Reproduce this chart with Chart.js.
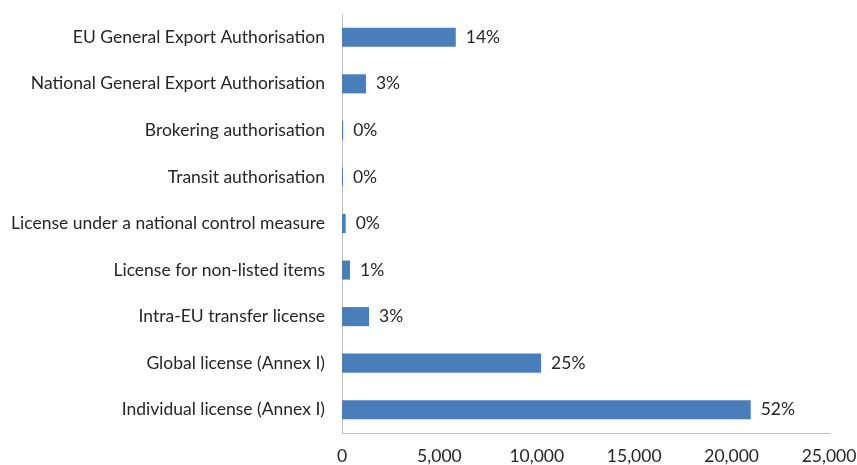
<!DOCTYPE html>
<html lang="en">
<head>
    <meta charset="UTF-8">
    <title>Licences by type</title>
    <script src="https://cdn.jsdelivr.net/npm/chart.js"></script>
    <style>
        body, html {
            margin: 0;
            padding: 0;
            background: #ffffff;
        }
        .wrap {
            width: 857px;
            height: 465px;
        }
    </style>
</head>
<body>
    <div class="wrap"><canvas id="chart" width="857" height="465"></canvas></div>
    <script>
        const categories = [
            'EU General Export Authorisation',
            'National General Export Authorisation',
            'Brokering authorisation',
            'Transit authorisation',
            'License under a national control measure',
            'License for non-listed items',
            'Intra-EU transfer license',
            'Global license (Annex I)',
            'Individual license (Annex I)'
        ];
        const values = [5840, 1230, 60, 50, 190, 410, 1390, 10220, 20980];
        const shareLabels = ['14%', '3%', '0%', '0%', '0%', '1%', '3%', '25%', '52%'];
        const xTicks = [0, 5000, 10000, 15000, 20000, 25000];

        const fontFamily = "Lato, 'Open Sans', sans-serif";
        const fontSize = 17.5;
        const textColor = '#262626';

        // thousands separator without relying on locale data
        const withCommas = v => String(v).replace(/\B(?=(\d{3})+(?!\d))/g, ',');

        // draws the percentage next to the end of each bar
        const shareLabelPlugin = {
            id: 'shareLabels',
            afterDatasetsDraw(chart) {
                const ctx = chart.ctx;
                const meta = chart.getDatasetMeta(0);
                ctx.save();
                ctx.font = fontSize + 'px ' + fontFamily;
                ctx.fillStyle = textColor;
                ctx.textAlign = 'left';
                ctx.textBaseline = 'middle';
                meta.data.forEach((bar, i) => {
                    ctx.fillText(shareLabels[i], bar.x + 10, bar.y);
                });
                ctx.restore();
            }
        };

        new Chart(document.getElementById('chart'), {
            type: 'bar',
            data: {
                labels: categories,
                datasets: [{
                    data: values,
                    backgroundColor: '#4a7ebb',
                    borderWidth: 0,
                    categoryPercentage: 1,
                    barPercentage: 0.41
                }]
            },
            options: {
                indexAxis: 'y',
                responsive: false,
                animation: false,
                layout: { padding: { left: 0, right: 28, top: 14, bottom: 0 } },
                plugins: {
                    legend: { display: false },
                    tooltip: { enabled: false }
                },
                scales: {
                    x: {
                        min: 0,
                        max: 25000,
                        afterBuildTicks(axis) {
                            axis.ticks = xTicks.map(v => ({ value: v }));
                        },
                        grid: { display: false },
                        border: { display: true, color: '#bfbfbf', width: 1 },
                        ticks: {
                            color: textColor,
                            font: { family: fontFamily, size: fontSize },
                            padding: 5,
                            maxRotation: 0,
                            callback: v => withCommas(v)
                        },
                        afterFit(axis) {
                            axis.height = 32;
                            axis.paddingLeft = 0;
                            axis.paddingRight = 0;
                        }
                    },
                    y: {
                        grid: { display: false },
                        border: { display: true, color: '#bfbfbf', width: 1 },
                        ticks: {
                            color: textColor,
                            font: { family: fontFamily, size: fontSize },
                            padding: 9
                        },
                        afterFit(axis) {
                            axis.width = 342;
                            axis.paddingTop = 0;
                            axis.paddingBottom = 0;
                        }
                    }
                }
            },
            plugins: [shareLabelPlugin]
        });
    </script>
</body>
</html>
